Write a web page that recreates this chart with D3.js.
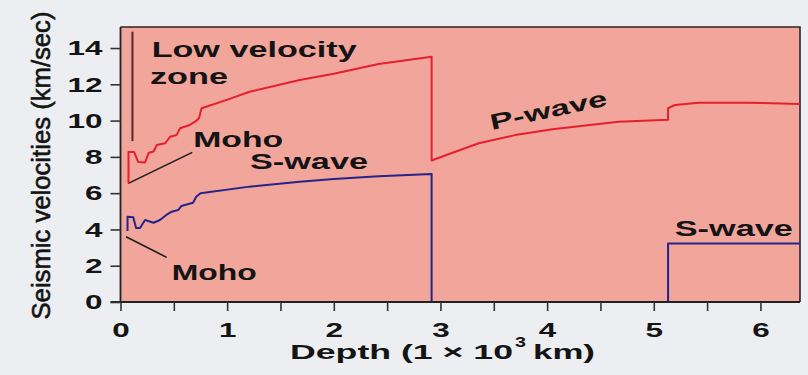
<!DOCTYPE html>
<html>
<head>
<meta charset="utf-8">
<script src="https://cdn.jsdelivr.net/npm/d3@7"></script>
<style>
  html, body { margin: 0; padding: 0; background: #eceef1; }
  svg { display: block; }
  text { font-family: "Liberation Sans", Arial, Helvetica, sans-serif; fill: #141414; }
</style>
</head>
<body>
<svg id="chart" width="808" height="375"></svg>
<script>
// ---- data (depth in 1000 km, velocity in km/s) ----
const pWave = [
  [0.075, 6.53], [0.075, 8.27], [0.127, 8.27], [0.165, 7.72], [0.23, 7.69],
  [0.263, 8.21], [0.31, 8.30], [0.34, 8.65], [0.42, 8.75], [0.465, 9.11],
  [0.527, 9.21], [0.558, 9.58], [0.65, 9.76], [0.71, 9.98], [0.736, 10.14],
  [0.76, 10.68], [1.01, 11.17], [1.21, 11.59], [1.68, 12.24], [2.0, 12.58],
  [2.42, 13.12], [2.917, 13.52], [2.917, 7.80], [3.1, 8.2], [3.36, 8.75],
  [3.7, 9.2], [4.05, 9.52], [4.4, 9.76], [4.67, 9.94], [5.134, 10.05],
  [5.134, 10.69], [5.2, 10.86], [5.42, 10.99], [5.89, 10.99], [6.371, 10.92]
];
const sWave = [
  [0.066, 3.91], [0.066, 4.70], [0.12, 4.67], [0.146, 4.08], [0.183, 4.08],
  [0.23, 4.52], [0.31, 4.37], [0.37, 4.52], [0.43, 4.80], [0.48, 4.98],
  [0.54, 5.07], [0.57, 5.29], [0.68, 5.47], [0.71, 5.80], [0.75, 5.99],
  [1.21, 6.36], [1.68, 6.63], [2.0, 6.78], [2.42, 6.93], [2.917, 7.06],
  [2.917, 0], [5.134, 0], [5.134, 3.23], [6.371, 3.23]
];
const xTicks = [0, 0.5, 1, 1.5, 2, 2.5, 3, 3.5, 4, 4.5, 5, 5.5, 6];
const xTickLabels = ["0", "", "1", "", "2", "", "3", "", "4", "", "5", "", "6"];
const yTicks = [0, 2, 4, 6, 8, 10, 12, 14];
const yTickLabels = ["0", "2", "4", "6", "8", "10", "12", "14"];
const xDomain = [0, 6.371];
const yDomain = [0, 15.16];

// annotations: [text, depth, velocity, width(px), rotation]
const annotations = [
  ["Low velocity", 0.292, 13.49, 205, 0],
  ["zone", 0.276, 12.02, 78, 0],
  ["Moho", 0.682, 8.53, 90, 0],
  ["S-wave", 1.214, 7.32, 118, 0],
  ["Moho", 0.48, 1.21, 85, 0],
  ["S-wave", 5.197, 3.64, 118, 0],
  ["P-wave", 3.482, 9.48, 119, -12]
];
// pointer lines [[d1,v1],[d2,v2]]
const mohoPointers = [
  [[0.073, 6.54], [0.673, 8.25]],
  [[0.052, 3.60], [0.433, 2.46]]
];
const lowVelBracket = [[0.112, 14.9], [0.112, 8.87]];

// ---- layout ----
const W = 808, H = 375;
const margin = { left: 120.5, top: 27, right: 8, bottom: 73 };
const svg = d3.select("#chart");
const x = d3.scaleLinear().domain(xDomain).range([margin.left, W - margin.right]);
const y = d3.scaleLinear().domain(yDomain).range([H - margin.bottom, margin.top]);

// plot background
svg.append("rect")
  .attr("x", x(xDomain[0])).attr("y", y(yDomain[1]))
  .attr("width", x(xDomain[1]) - x(xDomain[0]))
  .attr("height", y(yDomain[0]) - y(yDomain[1]))
  .attr("fill", "#f2a59b");

// frame top & right
svg.append("path")
  .attr("d", `M${x(xDomain[0])},${y(yDomain[1])}H${x(xDomain[1])}V${y(yDomain[0])}`)
  .attr("fill", "none").attr("stroke", "#2e2424").attr("stroke-width", 1.6);

const line = d3.line().x(d => x(d[0])).y(d => y(d[1]));

// low velocity zone bracket
svg.append("path").attr("d", line(lowVelBracket))
  .attr("stroke", "#5a2626").attr("stroke-width", 2).attr("fill", "none");

// Moho pointers
mohoPointers.forEach(p => {
  svg.append("path").attr("d", line(p))
    .attr("stroke", "#1c1c1c").attr("stroke-width", 1.6).attr("fill", "none");
});

// series
svg.append("path").datum(pWave).attr("d", line)
  .attr("fill", "none").attr("stroke", "#e51f2e").attr("stroke-width", 2)
  .attr("stroke-linejoin", "round");
svg.append("path").datum(sWave).attr("d", line)
  .attr("fill", "none").attr("stroke", "#26248a").attr("stroke-width", 2)
  .attr("stroke-linejoin", "round");

// axes
const xAxis = d3.axisBottom(x).tickValues(xTicks)
  .tickFormat((d, i) => xTickLabels[i]).tickSize(9).tickPadding(11);
const yAxis = d3.axisLeft(y).tickValues(yTicks)
  .tickFormat((d, i) => yTickLabels[i]).tickSize(10).tickPadding(8);

const gx = svg.append("g").attr("transform", `translate(0,${y(0)})`).call(xAxis);
const gy = svg.append("g").attr("transform", `translate(${x(0)},0)`).call(yAxis);

[gx, gy].forEach(g => {
  g.select(".domain").attr("stroke", "#222").attr("stroke-width", 1.8);
  g.selectAll(".tick line").attr("stroke", "#333").attr("stroke-width", 1.6);
  g.selectAll(".tick text")
    .attr("font-family", "Liberation Sans, Arial, sans-serif")
    .attr("font-size", 21).attr("font-weight", "bold").attr("fill", "#141414")
    .each(function () {
      const t = this.textContent;
      if (t.length) d3.select(this).attr("textLength", 17.5 * t.length).attr("lengthAdjust", "spacingAndGlyphs");
    });
});
// extend x-axis domain a bit to the left (cross at origin)
gx.select(".domain").attr("d", `M${x(0) - 10},0H${x(xDomain[1])}`);
gy.select(".domain").attr("d", `M0,${y(yDomain[1])}V${y(0)}`);

// annotations
annotations.forEach(([t, d, v, w, rot]) => {
  svg.append("text")
    .attr("transform", `translate(${x(d)},${y(v)}) rotate(${rot})`)
    .attr("font-size", 22).attr("font-weight", "bold")
    .attr("textLength", w).attr("lengthAdjust", "spacingAndGlyphs")
    .text(t);
});

// y-axis title
svg.append("text")
  .attr("transform", `translate(50,${(y(yDomain[1]) + y(0)) / 2 + 1}) rotate(-90)`)
  .attr("text-anchor", "middle")
  .attr("font-size", 26).attr("font-weight", "normal")
  .attr("stroke", "#141414").attr("stroke-width", 0.6)
  .attr("textLength", 308).attr("lengthAdjust", "spacingAndGlyphs")
  .text("Seismic velocities (km/sec)");

// x-axis title: "Depth (1 × 10³ km)"
const xt = svg.append("g");
xt.append("text").attr("x", 290).attr("y", 358.5)
  .attr("font-size", 21).attr("font-weight", "bold")
  .attr("textLength", 223).attr("lengthAdjust", "spacingAndGlyphs")
  .text("Depth (1 \u00d7 10");
xt.append("text").attr("x", 515).attr("y", 346.5)
  .attr("font-size", 15).attr("font-weight", "bold")
  .attr("textLength", 11).attr("lengthAdjust", "spacingAndGlyphs")
  .text("3");
xt.append("text").attr("x", 533).attr("y", 358.5)
  .attr("font-size", 21).attr("font-weight", "bold")
  .attr("textLength", 62).attr("lengthAdjust", "spacingAndGlyphs")
  .text("km)");
</script>
</body>
</html>
